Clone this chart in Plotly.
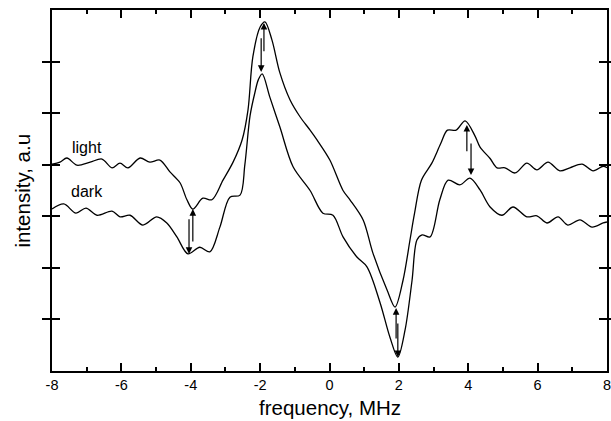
import plotly.graph_objects as go

# ---- data ----
light_x = [-8.00, -7.77, -7.57, -7.28, -6.90, -6.56, -6.27, -6.04, -5.81, -5.46, -5.18, -4.89,
           -4.60, -4.31, -4.11, -3.94, -3.65, -3.39, -3.07, -2.78, -2.52, -2.35, -2.21, -2.00,
           -1.86, -1.66, -1.43, -1.14, -0.85, -0.56, -0.36, 0.01, 0.39, 0.59, 0.97, 1.25, 1.66,
           1.89, 2.12, 2.32, 2.45, 2.65, 2.95, 3.20, 3.40, 3.65, 3.91, 4.20, 4.34, 4.63, 4.83,
           5.06, 5.35, 5.69, 5.98, 6.30, 6.64, 6.93, 7.28, 7.60, 7.89, 8.00]
light_y = [4.01, 4.05, 4.13, 3.99, 4.05, 4.11, 3.94, 4.03, 3.94, 4.13, 4.05, 4.09,
           3.86, 3.65, 3.32, 3.14, 3.35, 3.32, 3.70, 4.05, 4.48, 5.06, 6.09, 6.67,
           6.77, 6.42, 5.78, 5.26, 4.93, 4.67, 4.48, 4.09, 3.50, 3.32, 2.93, 2.29, 1.57,
           1.24, 1.76, 2.54, 3.05, 3.70, 4.03, 4.40, 4.67, 4.67, 4.85, 4.55, 4.34, 4.12, 3.94,
           3.94, 3.84, 4.03, 3.90, 4.05, 3.88, 3.94, 4.01, 3.88, 3.97, 3.94]

dark_x = [-8.00, -7.66, -7.31, -7.02, -6.70, -6.27, -6.04, -5.75, -5.38, -4.98, -4.69, -4.40,
          -4.08, -3.74, -3.45, -3.16, -2.87, -2.58, -2.44, -2.29, -2.15, -2.05, -1.94, -1.72,
          -1.43, -1.05, -0.56, -0.19, 0.10, 0.39, 0.79, 1.08, 1.46, 1.74, 1.97, 2.18, 2.38,
          2.52, 2.67, 2.90, 3.18, 3.42, 3.76, 4.05, 4.34, 4.63, 4.97, 5.29, 5.69, 5.98, 6.27,
          6.59, 6.87, 7.22, 7.57, 7.89, 8.00]
dark_y = [3.14, 3.24, 3.06, 3.16, 3.02, 3.10, 2.99, 3.02, 2.83, 2.99, 2.87, 2.60,
          2.27, 2.40, 2.31, 2.79, 3.37, 3.41, 4.00, 4.95, 5.40, 5.65, 5.76, 5.31,
          4.73, 3.96, 3.50, 3.06, 3.02, 2.60, 2.21, 2.02, 1.32, 0.66, 0.27, 0.80, 1.76,
          2.54, 2.64, 2.60, 3.32, 3.70, 3.61, 3.74, 3.51, 3.18, 3.02, 3.18, 2.99, 3.01, 2.87,
          2.99, 2.83, 2.93, 2.79, 2.87, 2.89]

# double arrows between the curves: (x, tail y, head y)
arrows_up = [(-3.94, 2.48, 3.14), (-1.89, 6.17, 6.75), (1.92, 0.60, 1.22), (3.96, 4.23, 4.77)]
arrows_down = [(-4.05, 2.97, 2.27), (-1.97, 6.48, 5.80), (1.97, 0.95, 0.27), (4.08, 4.44, 3.80)]

labels = [("light", -6.99, 4.34), ("dark", -6.99, 3.49)]

x_ticks = [-8, -6, -4, -2, 0, 2, 4, 6, 8]
y_ticks = [1, 2, 3, 4, 5, 6]
x_title = "frequency, MHz"
y_title = "intensity, a.u"

FONT = "Liberation Sans, Arial, sans-serif"

fig = go.Figure()
for xs, ys in [(light_x, light_y), (dark_x, dark_y)]:
    fig.add_trace(go.Scatter(x=xs, y=ys, mode="lines",
                             line=dict(color="black", width=1.3, shape="spline", smoothing=0.9),
                             showlegend=False, hoverinfo="skip"))

ann = []
for (x, y0, y1) in arrows_up + arrows_down:
    ann.append(dict(x=x, y=y1, ax=x, ay=y0, xref="x", yref="y", axref="x", ayref="y",
                    text="", showarrow=True, arrowhead=2, arrowsize=1.1, arrowwidth=1.2,
                    arrowcolor="black", standoff=0, startstandoff=0))
for (t, x, y) in labels:
    ann.append(dict(x=x, y=y, xref="x", yref="y", text=t, showarrow=False,
                    font=dict(family=FONT, size=16, color="black")))
ann.append(dict(x=0.5, y=-0.10, xref="paper", yref="paper", text=x_title, showarrow=False,
                xanchor="center", yanchor="middle", font=dict(family=FONT, size=20.5, color="black")))
ann.append(dict(x=-0.054, y=0.5, xref="paper", yref="paper", text=y_title, showarrow=False,
                textangle=-90, xanchor="center", yanchor="middle",
                font=dict(family=FONT, size=20.5, color="black")))

axis_common = dict(showline=True, linecolor="black", linewidth=1.8,
                   ticks="inside", tickcolor="black", tickwidth=1.5, ticklen=8,
                   showgrid=False, zeroline=False, automargin=False)

fig.update_layout(
    width=611, height=421,
    margin=dict(l=52, r=4, t=10, b=50),
    paper_bgcolor="white", plot_bgcolor="white",
    font=dict(family=FONT, color="black"),
    annotations=ann,
    xaxis=dict(range=[-8, 8], tickvals=x_ticks, ticktext=[str(v) for v in x_ticks],
               tickfont=dict(size=14.5), mirror=True, ticklabeloverflow="allow",
               minor=dict(dtick=1, tick0=-8, ticks="inside", ticklen=4, tickcolor="black", tickwidth=1.5),
               **axis_common),
    xaxis2=dict(range=[-8, 8], overlaying="x", side="top", tickvals=x_ticks, showticklabels=False,
                minor=dict(dtick=1, tick0=-8, ticks="inside", ticklen=4, tickcolor="black", tickwidth=1.5),
                **axis_common),
    yaxis=dict(range=[0, 7], tickvals=y_ticks, showticklabels=False, mirror="allticks",
               **axis_common),
)
# invisible trace to activate the top axis
fig.add_trace(go.Scatter(x=[-8], y=[0], xaxis="x2", mode="markers", marker=dict(opacity=0),
                         showlegend=False, hoverinfo="skip"))

fig.write_html("out.html", config={"displayModeBar": False},
               post_script="document.body.style.margin='0px';")
